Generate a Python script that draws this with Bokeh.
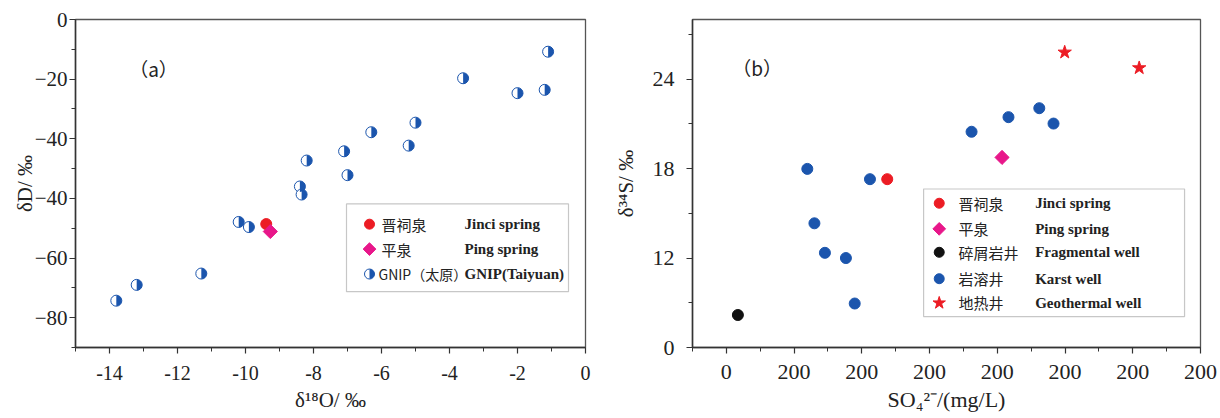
import math
from bokeh.plotting import figure
from bokeh.models import FixedTicker, Label, BoxAnnotation, Range1d, Title
from bokeh.layouts import row
from bokeh.embed import file_html
from bokeh.resources import INLINE

# ---------------- data: panel (a) ----------------
gnip_d18o = [-1.1, -3.6, -2.0, -1.2, -5.0, -6.3, -5.2, -7.1, -8.2, -7.0, -8.4, -8.35,
             -10.2, -9.9, -11.3, -13.2, -13.8]
gnip_dD = [-10.8, -19.7, -24.7, -23.6, -34.6, -37.8, -42.3, -44.2, -47.3, -52.2, -56.0, -58.7,
           -67.9, -69.6, -85.2, -89.0, -94.3]
jinci_a_d18o = [-9.39]
jinci_a_dD = [-68.6]
ping_a_d18o = [-9.27]
ping_a_dD = [-71.1]

a_xticks = [-14, -12, -10, -8, -6, -4, -2, 0]
a_xtick_labels = ["-14", "-12", "-10", "-8", "-6", "-4", "-2", "0"]
a_xminor = [-15, -13, -11, -9, -7, -5, -3, -1]
a_yticks = [0, -20, -40, -60, -80, -100]
a_ytick_labels = ["0", "\u221220", "\u221240", "\u221240", "\u221260", "\u221280"]
a_yminor = [-10, -30, -50, -70, -90, -110]

# ---------------- data: panel (b) ----------------
karst_so4 = [239, 424, 260, 291, 353, 379, 924, 833, 966, 724]
karst_d34s = [17.98, 17.29, 14.33, 12.35, 12.0, 8.95, 22.05, 21.45, 21.02, 20.47]
jinci_b_so4 = [475]
jinci_b_d34s = [17.29]
ping_b_so4 = [814]
ping_b_d34s = [18.75]
frag_so4 = [34]
frag_d34s = [8.18]
geo_so4 = [999, 1219]
geo_d34s = [25.8, 24.75]

b_xticks = [0, 200, 400, 600, 800, 1000, 1200, 1400]
b_xtick_labels = ["0", "200", "200", "200", "200", "200", "200", "200"]
b_xminor = [-100, 100, 300, 500, 700, 900, 1100, 1300]
b_yticks = [6, 12, 18, 24]
b_ytick_labels = ["0", "12", "18", "24"]
b_yminor = [9, 15, 21, 27]

BLUE = "#1b55ad"
RED = "#ec1c24"
MAGENTA = "#e8178a"
BLACK = "#111111"
SERIF = "Liberation Serif"
CJK = "Noto Sans CJK SC"

W, H = 610, 418


def make_fig(xr, yr, left, right, top, bottom):
    p = figure(width=W, height=H, x_range=Range1d(*xr), y_range=Range1d(*yr),
               output_backend="svg", toolbar_location=None,
               min_border_left=left, min_border_right=right,
               min_border_top=top, min_border_bottom=bottom)
    p.xgrid.visible = False
    p.ygrid.visible = False
    p.outline_line_color = "#555555"
    p.outline_line_width = 1.3
    for ax in (p.xaxis[0], p.yaxis[0]):
        ax.axis_line_color = "#333333"
        ax.axis_line_width = 1.5
        ax.major_tick_line_color = "#333333"
        ax.major_tick_line_width = 1.2
        ax.minor_tick_line_color = "#333333"
        ax.minor_tick_line_width = 1.0
        ax.major_tick_in = 0
        ax.major_tick_out = 6
        ax.minor_tick_in = 0
        ax.minor_tick_out = 4
        ax.major_label_text_font = SERIF
        ax.major_label_text_color = "#222222"
        ax.axis_label_text_font = SERIF
        ax.axis_label_text_font_style = "normal"
        ax.axis_label_text_color = "#222222"
    return p


def mapper(p_left, p_top, fw, fh, xr, yr, offset=0):
    def fx(px):
        return xr[0] + (px - offset - p_left) / fw * (xr[1] - xr[0])

    def fy(py):
        return yr[1] - (py - p_top) / fh * (yr[1] - yr[0])
    return fx, fy


def half_circle(p, xs, ys, size=11):
    p.scatter(xs, ys, marker="circle", size=size, fill_color="white",
              line_color=BLUE, line_width=1.0)
    p.wedge(xs, ys, radius=size / 2.0, radius_units="screen",
            start_angle=-math.pi / 2, end_angle=math.pi / 2,
            fill_color=BLUE, line_color=None)


def diamond(p, xs, ys, size=10):
    p.scatter(xs, ys, marker="square", size=size, angle=math.pi / 4,
              fill_color=MAGENTA, line_color=MAGENTA)


def txt(p, x, y, s, font, size, style="normal", align="left", baseline="middle", angle=0):
    p.add_layout(Label(x=x, y=y, text=s, text_font=font, text_font_size=f"{size}px",
                       text_font_style=style, text_align=align, text_baseline=baseline,
                       text_color="#222222", angle=angle))


def xtitle(p, s, offset, size):
    p.add_layout(Title(text=s, align="center", offset=offset, text_font=SERIF,
                       text_font_size=f"{size}px", text_font_style="normal",
                       text_color="#222222", standoff=6), "below")


# ================= panel (a) =================
AXR, AYR = (-15, 0), (-110, 0)
AL, AR, AT, AB = 75, 25, 18, 71
pa = make_fig(AXR, AYR, AL, AR, AT, AB)
afw, afh = W - AL - AR, H - AT - AB
ax_, ay_ = mapper(AL, AT, afw, afh, AXR, AYR)

pa.xaxis.ticker = FixedTicker(ticks=a_xticks, minor_ticks=a_xminor)
pa.xaxis.major_label_overrides = dict(zip(a_xticks, a_xtick_labels))
pa.xaxis.major_label_text_font_size = "20px"
pa.xaxis.major_label_standoff = 12
pa.yaxis.ticker = FixedTicker(ticks=a_yticks, minor_ticks=a_yminor)
pa.yaxis.major_label_overrides = dict(zip(a_yticks, a_ytick_labels))
pa.yaxis.major_label_text_font_size = "21px"
pa.yaxis.major_label_standoff = 2
pa.yaxis.axis_label = "\u03b4D/ \u2030"
pa.yaxis.axis_label_text_font_size = "21px"
pa.yaxis.axis_label_standoff = -5
xtitle(pa, "\u03b4\u00b9\u2078O/ \u2030", -26, 21)

half_circle(pa, gnip_d18o, gnip_dD)
pa.scatter(jinci_a_d18o, jinci_a_dD, marker="circle", size=11, fill_color=RED, line_color=RED)
diamond(pa, ping_a_d18o, ping_a_dD)

# panel tag
txt(pa, ax_(153), ay_(67), "\uff08a\uff09", CJK, 19, align="center")

# legend (a)
pa.add_layout(BoxAnnotation(left=ax_(346), right=ax_(568), top=ay_(203), bottom=ay_(291),
                            fill_alpha=0, fill_color=None, line_color="#444444", line_width=1.2))
leg_a_rows = [223.3, 248.3, 273.3]
pa.scatter([ax_(369)], [ay_(leg_a_rows[0])], marker="circle", size=10, fill_color=RED, line_color=RED)
diamond(pa, [ax_(369)], [ay_(leg_a_rows[1])], size=9)
half_circle(pa, [ax_(369)], [ay_(leg_a_rows[2])], size=10)
txt(pa, ax_(381), ay_(leg_a_rows[0]), "晋祠泉", CJK, 15)
txt(pa, ax_(381), ay_(leg_a_rows[1]), "平泉", CJK, 15)
txt(pa, ax_(378), ay_(leg_a_rows[2]), "GNIP（太原）", CJK, 14)
txt(pa, ax_(464), ay_(leg_a_rows[0]), "Jinci spring", SERIF, 15, style="bold")
txt(pa, ax_(464), ay_(leg_a_rows[1]), "Ping spring", SERIF, 15, style="bold")
txt(pa, ax_(464), ay_(leg_a_rows[2]), "GNIP(Taiyuan)", SERIF, 15, style="bold")

# ================= panel (b) =================
BXR, BYR = (-100, 1400), (6, 28)
BL, BR, BT, BB = 80, 20, 19, 70
pb = make_fig(BXR, BYR, BL, BR, BT, BB)
bfw, bfh = W - BL - BR, H - BT - BB
bx_, by_ = mapper(BL, BT, bfw, bfh, BXR, BYR, offset=W)

pb.xaxis.ticker = FixedTicker(ticks=b_xticks, minor_ticks=b_xminor)
pb.xaxis.major_label_overrides = dict(zip(b_xticks, b_xtick_labels))
pb.xaxis.major_label_text_font_size = "22px"
pb.xaxis.major_label_standoff = 11
pb.yaxis.ticker = FixedTicker(ticks=b_yticks, minor_ticks=b_yminor)
pb.yaxis.major_label_overrides = dict(zip(b_yticks, b_ytick_labels))
pb.yaxis.major_label_text_font_size = "22px"
pb.yaxis.major_label_standoff = 12
pb.yaxis.axis_label = "\u03b4\u00b3\u2074S/ \u2030"
pb.yaxis.axis_label_text_font_size = "21px"
pb.yaxis.axis_label_standoff = 12
xtitle(pb, "SO\u2084\u00b2\u207b/(mg/L)", 32, 22)

pb.scatter(karst_so4, karst_d34s, marker="circle", size=11, fill_color=BLUE, line_color=BLUE)
pb.scatter(jinci_b_so4, jinci_b_d34s, marker="circle", size=11, fill_color=RED, line_color=RED)
diamond(pb, ping_b_so4, ping_b_d34s)
pb.scatter(frag_so4, frag_d34s, marker="circle", size=11, fill_color=BLACK, line_color=BLACK)
pb.scatter(geo_so4, geo_d34s, marker="star", size=14, fill_color=RED, line_color=RED)

# panel tag
txt(pb, bx_(755), by_(67), "\uff08b\uff09", CJK, 19, align="center")

# legend (b)
pb.add_layout(BoxAnnotation(left=bx_(922), right=bx_(1184), top=by_(189), bottom=by_(317),
                            fill_alpha=0, fill_color=None, line_color="#444444", line_width=1.2))
leg_b_rows = [203.3, 229.0, 252.5, 279.0, 303.3]
mkx = bx_(937.7)
pb.scatter([mkx], [by_(leg_b_rows[0])], marker="circle", size=10, fill_color=RED, line_color=RED)
diamond(pb, [mkx], [by_(leg_b_rows[1])], size=9)
pb.scatter([mkx], [by_(leg_b_rows[2])], marker="circle", size=10, fill_color=BLACK, line_color=BLACK)
pb.scatter([mkx], [by_(leg_b_rows[3])], marker="circle", size=10, fill_color=BLUE, line_color=BLUE)
pb.scatter([mkx], [by_(leg_b_rows[4])], marker="star", size=13, fill_color=RED, line_color=RED)
cn_b = ["晋祠泉", "平泉", "碎屑岩井", "岩溶井", "地热井"]
en_b = ["Jinci spring", "Ping spring", "Fragmental well", "Karst well", "Geothermal well"]
for r, c, e in zip(leg_b_rows, cn_b, en_b):
    txt(pb, bx_(957), by_(r), c, CJK, 15)
    txt(pb, bx_(1034), by_(r), e, SERIF, 15, style="bold")

layout = row(pa, pb)
open("out.html", "w").write(file_html(layout, INLINE))
